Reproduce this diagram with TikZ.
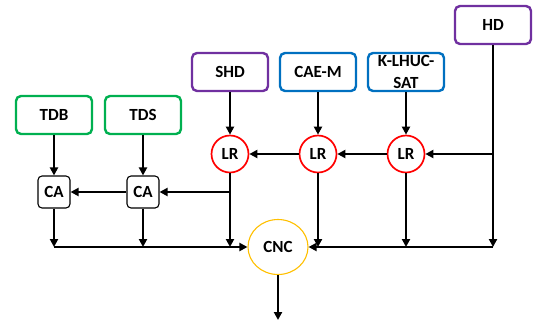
\documentclass[tikz,border=0pt]{standalone}
\usepackage{xcolor}
\usepackage{fontspec}
\setmainfont{Carlito}
\usepackage{tikz}
\usetikzlibrary{shapes.geometric, arrows.meta, calc}
\definecolor{srcGreen}{HTML}{00B050}
\definecolor{srcPurple}{HTML}{7030A0}
\definecolor{srcBlue}{HTML}{0070C0}
\definecolor{lrRed}{HTML}{FF0000}
\definecolor{cncAmber}{HTML}{FFC000}

\begin{document}
\begin{tikzpicture}[x=1pt, y=-1pt,
  src/.style={rounded corners=5pt, line width=2.4pt, fill=white, align=center,
              font=\bfseries\fontsize{17}{22}\selectfont, inner sep=1pt,
              minimum width=76pt, minimum height=38pt},
  ca/.style={rounded corners=4pt, draw=black, line width=1.1pt, fill=white,
             font=\bfseries\fontsize{17}{20}\selectfont, inner sep=1pt, minimum size=32pt},
  lr/.style={circle, draw=lrRed, line width=1.7pt, fill=white,
             font=\bfseries\fontsize{17}{20}\selectfont, inner sep=1pt, minimum size=37pt},
  arr/.style={-{Triangle[length=8pt, width=8pt]}, line width=2pt, color=black}
]
\useasboundingbox (0,0) rectangle (537,322);

% sources
\node[src, draw=srcGreen] (tdb) at (54,115) {TDB};
\node[src, draw=srcGreen] (tds) at (143,115) {TDS};
\node[src, draw=srcPurple] (shd) at (230,72) {SHD};
\node[src, draw=srcBlue] (caem) at (318,72) {CAE-M};
\node[src, draw=srcBlue] (klhuc) at (406,72) {K-LHUC-\\SAT};
\node[src, draw=srcPurple] (hd) at (493,25) {HD};

% combiners
\node[ca] (caL) at (54,192) {CA};
\node[ca] (caR) at (143,192) {CA};
\node[lr] (lrA) at (230,154) {LR};
\node[lr] (lrB) at (318,154) {LR};
\node[lr] (lrC) at (406,154) {LR};
\node[ellipse, draw=cncAmber, line width=1.1pt, fill=white, minimum width=60pt, minimum height=55pt,
      font=\bfseries\fontsize{17}{20}\selectfont, inner sep=1pt] (cnc) at (278,247) {CNC};

\coordinate (busL) at (54,247);
\coordinate (busR) at (493,247);
\coordinate (out) at (278,320);

\draw[arr] (tdb) -- (caL);
\draw[arr] (tds) -- (caR);
\draw[arr] (shd) -- (lrA);
\draw[arr] (caem) -- (lrB);
\draw[arr] (klhuc) -- (lrC);

\draw[arr] (hd |- lrC) -- (lrC);
\draw[arr] (lrC) -- (lrB);
\draw[arr] (lrB) -- (lrA);
\draw[arr] (lrA |- caR) -- (caR);
\draw[arr] (caR) -- (caL);

\draw[arr] (caL) -- (busL);
\draw[arr] (caR) -- (caR |- busL);
\draw[arr] (lrA) -- (lrA |- busL);
\draw[arr] (busL) -- (cnc.west);

\draw[arr] (hd) -- (busR);
\draw[arr] (lrB) -- (lrB |- busR);
\draw[arr] (lrC) -- (lrC |- busR);
\draw[arr] (busR) -- (cnc.east);

\draw[arr] (cnc) -- (out);
\end{tikzpicture}
\end{document}
